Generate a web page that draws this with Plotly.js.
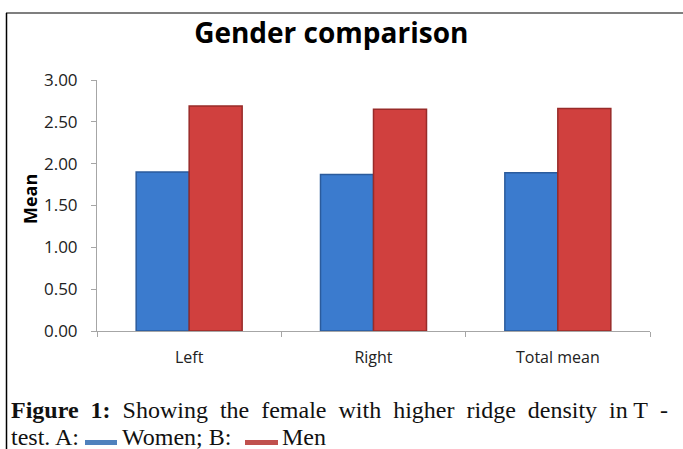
<!DOCTYPE html>
<html>
<head>
<meta charset="utf-8">
<script src="https://cdn.plot.ly/plotly-3.0.1.min.js"></script>
<style>
html,body{margin:0;padding:0;background:#fff;}
#chart{width:683px;height:449px;}
</style>
</head>
<body>
<div id="chart"></div>
<script>
const categories = ['Left', 'Right', 'Total mean'];
const women = [1.90, 1.87, 1.89];
const men = [2.69, 2.65, 2.66];
const yTicks = [0, 0.5, 1, 1.5, 2, 2.5, 3];

// pixel -> paper helpers (plot area: x 97..650, y 80..331)
const X0 = 97, W = 553, Y0 = 331, H = 251;
const px = x => (x - X0) / W;
const py = y => (Y0 - y) / H;

const traces = [
  {type: 'bar', name: 'Women', x: categories, y: women,
   marker: {color: '#3b7bce', line: {color: '#2b5b9c', width: 1.5}}, showlegend: false, hoverinfo: 'none'},
  {type: 'bar', name: 'Men', x: categories, y: men,
   marker: {color: '#d0403e', line: {color: '#982b29', width: 1.5}}, showlegend: false, hoverinfo: 'none'}
];

const capFont = {family: 'Liberation Serif, serif', size: 24, color: '#111'};
const sp = '&nbsp; ';

const layout = {
  width: 683, height: 449,
  margin: {l: X0, r: 683 - X0 - W, t: 80, b: 449 - Y0},
  paper_bgcolor: '#fff', plot_bgcolor: '#fff',
  barmode: 'group', bargap: 0.425, bargroupgap: 0,
  title: {text: '<b>Gender comparison</b>', x: 0.485, xref: 'container', xanchor: 'center',
          y: 1 - 33 / 449, yref: 'container', yanchor: 'middle',
          font: {family: 'Open Sans, sans-serif', size: 28, color: '#000'}},
  xaxis: {showgrid: false, zeroline: false, showline: true, linecolor: '#a6a6a6', linewidth: 1,
          ticks: 'outside', tickson: 'boundaries', ticklen: 5, tickcolor: '#a6a6a6',
          ticklabelstandoff: 12,
          tickfont: {family: 'Open Sans, sans-serif', size: 16, color: '#222'}},
  yaxis: {range: [0, 3], tickvals: yTicks, tickformat: '.2f', showgrid: false, zeroline: false,
          showline: true, linecolor: '#a6a6a6', linewidth: 1, ticks: 'outside', ticklen: 5,
          tickcolor: '#a6a6a6', ticklabelstandoff: 10,
          tickfont: {family: 'Open Sans, sans-serif', size: 17, color: '#222'}},
  shapes: [
    {type: 'line', xref: 'paper', yref: 'paper', x0: px(6), x1: px(683), y0: py(13), y1: py(13),
     line: {color: '#7f7f7f', width: 2}},
    {type: 'line', xref: 'paper', yref: 'paper', x0: px(6.5), x1: px(6.5), y0: py(13), y1: py(449),
     line: {color: '#000', width: 1.5}},
    {type: 'rect', xref: 'paper', yref: 'paper', x0: px(85), x1: px(117), y0: py(440), y1: py(445),
     fillcolor: '#4f81bd', line: {width: 0}},
    {type: 'rect', xref: 'paper', yref: 'paper', x0: px(245), x1: px(278), y0: py(440), y1: py(445),
     fillcolor: '#c0504d', line: {width: 0}}
  ],
  annotations: [
    {text: '<b>Mean</b>', xref: 'paper', yref: 'paper', x: px(30), y: py(199), textangle: -90,
     showarrow: false, xanchor: 'center', yanchor: 'middle',
     font: {family: 'Open Sans, sans-serif', size: 18, color: '#000'}},
    {text: '<b>Figure' + sp + '1:</b>' + sp + 'Showing' + sp + 'the' + sp + 'female' + sp + 'with' + sp +
           'higher' + sp + 'ridge' + sp + 'density' + sp + 'in T' + sp + '-',
     xref: 'paper', yref: 'paper', x: px(9), y: py(410), xanchor: 'left', yanchor: 'middle',
     showarrow: false, font: capFont},
    {text: 'test. A:', xref: 'paper', yref: 'paper', x: px(9), y: py(437), xanchor: 'left',
     yanchor: 'middle', showarrow: false, font: capFont},
    {text: 'Women; B:', xref: 'paper', yref: 'paper', x: px(120), y: py(437), xanchor: 'left',
     yanchor: 'middle', showarrow: false, font: capFont},
    {text: 'Men', xref: 'paper', yref: 'paper', x: px(280), y: py(437), xanchor: 'left',
     yanchor: 'middle', showarrow: false, font: capFont}
  ]
};

Plotly.newPlot('chart', traces, layout, {displayModeBar: false, staticPlot: true});
</script>
</body>
</html>
